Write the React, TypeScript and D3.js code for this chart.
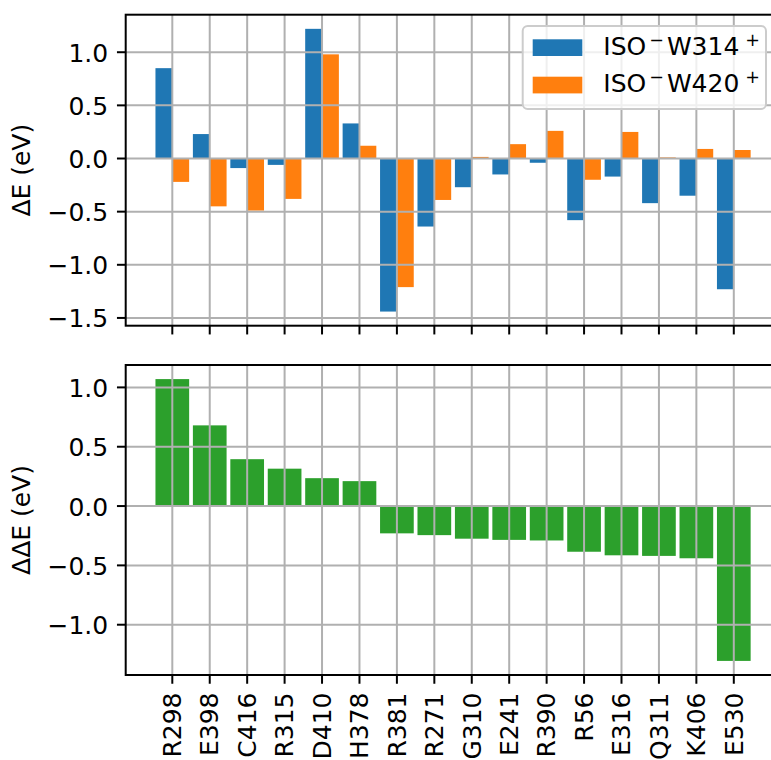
import React from "react";
import * as d3 from "d3";

const categories = ["R298", "E398", "C416", "R315", "D410", "H378", "R381", "R271", "G310", "E241", "R390", "R56", "E316", "Q311", "K406", "E530"];
const w314 = [0.85, 0.23, -0.09, -0.06, 1.22, 0.33, -1.44, -0.64, -0.27, -0.15, -0.04, -0.58, -0.17, -0.42, -0.35, -1.23];
const w420 = [-0.22, -0.45, -0.49, -0.38, 0.98, 0.12, -1.21, -0.39, 0.015, 0.135, 0.26, -0.2, 0.25, 0.01, 0.09, 0.08];
const ddE = [1.07, 0.68, 0.395, 0.315, 0.235, 0.21, -0.23, -0.245, -0.275, -0.285, -0.29, -0.385, -0.415, -0.42, -0.44, -1.305];
const topTicks = [-1.5, -1.0, -0.5, 0.0, 0.5, 1.0];
const bottomTicks = [-1.0, -0.5, 0.0, 0.5, 1.0];
const seriesNames = ["W314", "W420"];

const W = 771;
const H = 760;
const FONT = "DejaVu Sans, sans-serif";
const FS = 25;
const BLUE = "#1f77b4";
const ORANGE = "#ff7f0e";
const GREEN = "#2ca02c";
const GRID = "#b0b0b0";

const axLeft = 125.7;
const axRight = 780.4;
const topPanel = { y0: 14.7, y1: 325.7 };
const botPanel = { y0: 365, y1: 675 };
const TICK = 8.75;
const PAD = 8.75;

function withMargin(min: number, max: number) {
  const r = max - min;
  return [min - 0.05 * r, max + 0.05 * r];
}

const fmt = (v: number) => (v < 0 ? "\u2212" : "") + Math.abs(v).toFixed(1);

export default function App() {
  const n = categories.length;
  const x = d3.scaleLinear().domain(withMargin(-0.45, n - 1 + 0.45)).range([axLeft, axRight]);
  const unit = x(1) - x(0);

  const topAll = [...w314, ...w420, 0];
  const yTop = d3
    .scaleLinear()
    .domain(withMargin(d3.min(topAll)!, d3.max(topAll)!))
    .range([topPanel.y1, topPanel.y0]);
  const yBot = d3
    .scaleLinear()
    .domain(withMargin(d3.min([...ddE, 0])!, d3.max([...ddE, 0])!))
    .range([botPanel.y1, botPanel.y0]);

  const bw = 0.45;

  const panelGrid = (y: d3.ScaleLinear<number, number>, ticks: number[], p: { y0: number; y1: number }) => (
    <g>
      {categories.map((c, i) => (
        <line key={"vx" + c} x1={x(i)} x2={x(i)} y1={p.y0} y2={p.y1} stroke={GRID} strokeWidth={2} />
      ))}
      {ticks.map((t) => (
        <line key={"hy" + t} x1={axLeft} x2={axRight} y1={y(t)} y2={y(t)} stroke={GRID} strokeWidth={2} />
      ))}
    </g>
  );

  const panelAxes = (y: d3.ScaleLinear<number, number>, ticks: number[], p: { y0: number; y1: number }) => (
    <g>
      {ticks.map((t) => (
        <g key={"yt" + t}>
          <line x1={axLeft - TICK} x2={axLeft} y1={y(t)} y2={y(t)} stroke="#000" strokeWidth={2} />
          <text x={axLeft - TICK - PAD} y={y(t)} dy="0.38em" textAnchor="end" fontSize={FS} fontFamily={FONT} fill="#000">
            {fmt(t)}
          </text>
        </g>
      ))}
      {categories.map((c, i) => (
        <line key={"xt" + c} x1={x(i)} x2={x(i)} y1={p.y1} y2={p.y1 + TICK} stroke="#000" strokeWidth={2} />
      ))}
      <rect x={axLeft} y={p.y0} width={axRight - axLeft} height={p.y1 - p.y0} fill="none" stroke="#000" strokeWidth={2} />
    </g>
  );

  const legX = 522.7;
  const legY = 26;

  return (
    <svg width={W} height={H} style={{ position: "absolute", left: 0, top: 0, background: "#fff" }}>
      <rect x={0} y={0} width={W} height={H} fill="#fff" />
      {/* top panel bars */}
      <g>
        {w314.map((v, i) => (
          <rect key={"b" + i} x={x(i - bw)} y={Math.min(yTop(v), yTop(0))} width={bw * unit} height={Math.abs(yTop(v) - yTop(0))} fill={BLUE} />
        ))}
        {w420.map((v, i) => (
          <rect key={"o" + i} x={x(i)} y={Math.min(yTop(v), yTop(0))} width={bw * unit} height={Math.abs(yTop(v) - yTop(0))} fill={ORANGE} />
        ))}
      </g>
      {panelGrid(yTop, topTicks, topPanel)}
      {panelAxes(yTop, topTicks, topPanel)}

      {/* bottom panel bars */}
      <g>
        {ddE.map((v, i) => (
          <rect key={"g" + i} x={x(i - 0.45)} y={Math.min(yBot(v), yBot(0))} width={0.9 * unit} height={Math.abs(yBot(v) - yBot(0))} fill={GREEN} />
        ))}
      </g>
      {panelGrid(yBot, bottomTicks, botPanel)}
      {panelAxes(yBot, bottomTicks, botPanel)}

      {/* x tick labels */}
      {categories.map((c, i) => (
        <text
          key={"xl" + c}
          transform={`translate(${x(i)},${botPanel.y1 + TICK + PAD}) rotate(-90)`}
          textAnchor="end"
          dy="0.35em"
          fontSize={FS}
          fontFamily={FONT}
          fill="#000"
        >
          {c}
        </text>
      ))}

      {/* y labels */}
      <text transform={`translate(30,${(topPanel.y0 + topPanel.y1) / 2}) rotate(-90)`} textAnchor="middle" fontSize={FS} fontFamily={FONT} fill="#000">
        ΔE (eV)
      </text>
      <text transform={`translate(30,${(botPanel.y0 + botPanel.y1) / 2}) rotate(-90)`} textAnchor="middle" fontSize={FS} fontFamily={FONT} fill="#000">
        ΔΔE (eV)
      </text>

      {/* legend */}
      <g>
        <rect x={legX} y={legY} width={243.3} height={83} rx={5} fill="#fff" fillOpacity={0.8} stroke="#cccccc" strokeWidth={2} />
        {seriesNames.map((s, k) => (
          <g key={s}>
            <rect x={legX + 10} y={legY + 13.3 + k * 37.4} width={49.6} height={16.7} fill={k === 0 ? BLUE : ORANGE} />
            <text x={legX + 80.6} y={legY + 29 + k * 37.4} fontSize={FS} fontFamily={FONT} fill="#000">
              ISO
              <tspan dx={3} dy={-9} fontSize={17.5}>
                −
              </tspan>
              <tspan dx={3} dy={9}>
                {s}
              </tspan>
              <tspan dx={6} dy={-9} fontSize={17.5}>
                +
              </tspan>
            </text>
          </g>
        ))}
      </g>
    </svg>
  );
}
